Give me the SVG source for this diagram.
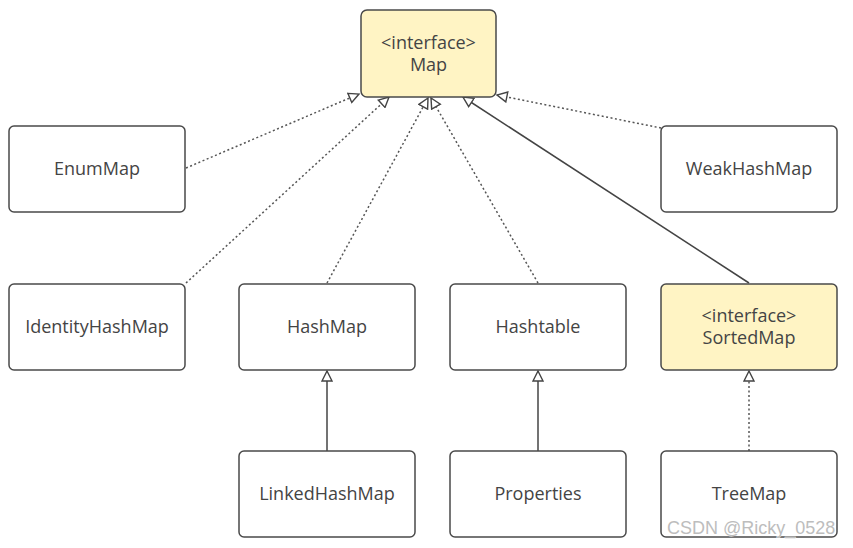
<svg xmlns="http://www.w3.org/2000/svg" width="853" height="548" viewBox="0 0 853 548">
<style>
.box{fill:#ffffff;stroke:#4a4a4a;stroke-width:1.5}
.iface{fill:#fff4c4;stroke:#4a4a4a;stroke-width:1.5}
.lbl{font-family:"Open Sans","Noto Sans",sans-serif;font-size:18px;fill:#444;text-anchor:middle}
.dot{fill:none;stroke:#555;stroke-width:1.5;stroke-dasharray:2 2.5}
.sol{fill:none;stroke:#444;stroke-width:1.5}
.wm{font-family:"Liberation Sans","DejaVu Sans",sans-serif;font-size:18px;fill:#bdbdbd;stroke:#fff;stroke-width:0.6;paint-order:stroke}
</style>
<defs>
<marker id="tri" viewBox="0 0 12 12" refX="11" refY="6" markerWidth="12" markerHeight="12" markerUnits="userSpaceOnUse" orient="auto">
<path d="M1,1 L11,6 L1,11 Z" fill="#fff" stroke="#444" stroke-width="1.4" stroke-dasharray="none"/>
</marker>
</defs>
<g id="connectors">
<line class="dot" x1="186" y1="168" x2="359" y2="94" marker-end="url(#tri)"/>
<line class="dot" x1="186" y1="283" x2="389" y2="97" marker-end="url(#tri)"/>
<line class="dot" x1="327" y1="283" x2="428" y2="98" marker-end="url(#tri)"/>
<line class="dot" x1="538" y1="283" x2="431" y2="98" marker-end="url(#tri)"/>
<line class="sol" x1="749" y1="283" x2="463" y2="97" marker-end="url(#tri)"/>
<line class="dot" x1="661" y1="128" x2="497" y2="95" marker-end="url(#tri)"/>
<line class="sol" x1="327" y1="451" x2="327" y2="371" marker-end="url(#tri)"/>
<line class="sol" x1="538" y1="451" x2="538" y2="371" marker-end="url(#tri)"/>
<line class="dot" x1="749" y1="451" x2="749" y2="371" marker-end="url(#tri)"/>
</g>
<g id="Map"><rect class="iface" x="361" y="10" width="135" height="87" rx="6"/><text class="lbl" x="428.5" y="49">&lt;interface&gt;</text><text class="lbl" x="428.5" y="71">Map</text></g>
<g id="EnumMap"><rect class="box" x="9" y="126" width="176" height="86" rx="5"/><text class="lbl" x="97" y="175">EnumMap</text></g>
<g id="WeakHashMap"><rect class="box" x="661" y="126" width="176" height="86" rx="5"/><text class="lbl" x="749" y="175">WeakHashMap</text></g>
<g id="IdentityHashMap"><rect class="box" x="9" y="284" width="176" height="86" rx="5"/><text class="lbl" x="97" y="333">IdentityHashMap</text></g>
<g id="HashMap"><rect class="box" x="239" y="284" width="176" height="86" rx="5"/><text class="lbl" x="327" y="333">HashMap</text></g>
<g id="Hashtable"><rect class="box" x="450" y="284" width="176" height="86" rx="5"/><text class="lbl" x="538" y="333">Hashtable</text></g>
<g id="SortedMap"><rect class="iface" x="661" y="284" width="176" height="86" rx="5"/><text class="lbl" x="749" y="322">&lt;interface&gt;</text><text class="lbl" x="749" y="344">SortedMap</text></g>
<g id="LinkedHashMap"><rect class="box" x="239" y="451" width="176" height="86" rx="5"/><text class="lbl" x="327" y="500">LinkedHashMap</text></g>
<g id="Properties"><rect class="box" x="450" y="451" width="176" height="86" rx="5"/><text class="lbl" x="538" y="500">Properties</text></g>
<g id="TreeMap"><rect class="box" x="661" y="451" width="176" height="86" rx="5"/><text class="lbl" x="749" y="500">TreeMap</text></g>
<text class="wm" x="667" y="534">CSDN @Ricky_0528</text>
</svg>
